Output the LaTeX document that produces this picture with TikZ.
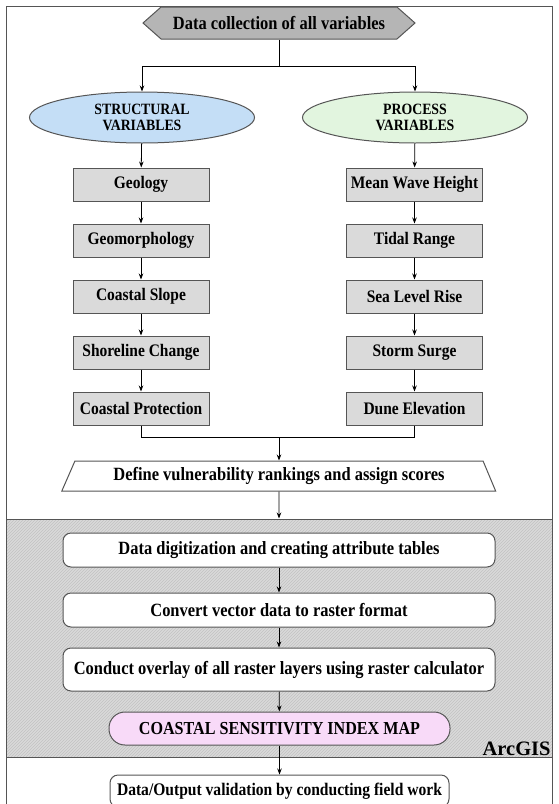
\documentclass[tikz,border=0pt]{standalone}
\usepackage{fontspec}
\setmainfont{Liberation Serif}[FakeStretch=0.88]
\newfontfamily\gisfont{Liberation Serif}
\usetikzlibrary{positioning,arrows.meta,shapes.geometric,shapes.symbols,patterns}
\definecolor{boxline}{HTML}{555555}
\definecolor{boxfill}{HTML}{DADADA}
\definecolor{hexfill}{HTML}{B5B5B5}
\definecolor{structfill}{HTML}{C4DEF6}
\definecolor{procfill}{HTML}{E2F5DF}
\definecolor{mapfill}{HTML}{F8DAF8}
\definecolor{gisfill}{HTML}{D9D9D9}
\definecolor{gishatch}{HTML}{C2C2C2}
\newcommand{\lblfont}{\fontsize{18.7}{20}\selectfont\bfseries}
\newcommand{\stepfont}{\fontsize{17.6}{19}\selectfont\bfseries}
\newcommand{\varfont}{\fontsize{15.7}{16}\selectfont\bfseries}
\tikzset{
  flow/.style={x=1pt,y=-1pt,>={Stealth[length=6pt,width=4.5pt]},line width=0.8pt,
    node distance=56pt,on grid},
  stepbox/.style={draw=boxline,fill=boxfill,line width=1pt,minimum width=136pt,
    minimum height=33pt,inner sep=1pt,font=\stepfont},
  varell/.style={ellipse,draw=boxline,line width=1pt,minimum width=225pt,
    minimum height=51pt,inner sep=0pt,align=center,font=\varfont},
  gisstep/.style={draw=boxline,fill=white,line width=1pt,rounded corners=8pt,
    minimum width=432pt,minimum height=34pt,inner sep=1pt,font=\lblfont},
}

\begin{document}
\begin{tikzpicture}[flow]
  \useasboundingbox (0,0) rectangle (558,804);
  \clip (0,0) rectangle (558,804);
  \draw[boxline,line width=1pt] (6,6) rectangle (552,820);

  \node[signal,signal to=west and east,signal pointer angle=83,draw=boxline,
    fill=hexfill,line width=1pt,minimum width=272pt,minimum height=32pt,
    inner sep=1pt,font=\lblfont] (collect) at (279,23) {Data collection of all variables};
  \node[varell,fill=structfill] (struct) at (142,117.5) {STRUCTURAL\\VARIABLES};
  \node[varell,fill=procfill] (proc) at (415,117.5) {PROCESS\\VARIABLES};

  \node[stepbox] (geo) at (141,184.5) {Geology};
  \node[stepbox] (geomorph) [below=of geo] {Geomorphology};
  \node[stepbox] (slope) [below=of geomorph] {Coastal Slope};
  \node[stepbox] (shore) [below=of slope] {Shoreline Change};
  \node[stepbox] (prot) [below=of shore] {Coastal Protection};

  \node[stepbox] (wave) at (414.5,184.5) {Mean Wave Height};
  \node[stepbox] (tide) [below=of wave] {Tidal Range};
  \node[stepbox] (slr) [below=of tide] {Sea Level Rise};
  \node[stepbox] (surge) [below=of slr] {Storm Surge};
  \node[stepbox] (dune) [below=of surge] {Dune Elevation};

  \node[trapezium,trapezium left angle=61,trapezium right angle=62,trapezium stretches=true,
    draw=boxline,fill=white,line width=1pt,minimum width=434pt,minimum height=30pt,
    inner sep=1pt,font=\lblfont] (rank) at (279,476) {Define vulnerability rankings and assign scores};

  \node[draw=boxline,line width=1pt,preaction={fill=gisfill},pattern=north east lines,
    pattern color=gishatch,minimum width=546pt,minimum height=238pt,inner sep=0pt] (gis) at (279,638) {};
  \node[anchor=south east,inner sep=1.5pt,font=\gisfont\fontsize{20.5}{22}\selectfont\bfseries] (arcgis) at (gis.south east) {ArcGIS};

  \node[gisstep] (digit) at (279,550) {Data digitization and creating attribute tables};
  \node[gisstep] (raster) at (279,610) {Convert vector data to raster format};
  \node[gisstep,minimum height=43pt] (overlay) at (279,669.5) {Conduct overlay of all raster layers using raster calculator};
  \node[gisstep,fill=mapfill,rounded corners=16pt,minimum width=341pt,minimum height=33pt,
    font=\fontsize{18.3}{20}\selectfont\bfseries] (csi) at (279.5,728.5) {COASTAL SENSITIVITY INDEX MAP};
  \node[gisstep,minimum width=339pt,minimum height=32pt,
    font=\fontsize{17.7}{19}\selectfont\bfseries] (valid) at (279.5,791) {Data/Output validation by conducting field work};

  \coordinate (split) at (279,66);
  \coordinate (merge) at (279,437);
  \draw (collect) -- (split);
  \draw[->] (split) -| (struct);
  \draw[->] (split) -| (proc);
  \draw[->] (struct) -- (geo);
  \draw[->] (geo) -- (geomorph);
  \draw[->] (geomorph) -- (slope);
  \draw[->] (slope) -- (shore);
  \draw[->] (shore) -- (prot);
  \draw[->] (proc) -- (wave);
  \draw[->] (wave) -- (tide);
  \draw[->] (tide) -- (slr);
  \draw[->] (slr) -- (surge);
  \draw[->] (surge) -- (dune);
  \draw (prot) |- (merge);
  \draw (dune) |- (merge);
  \draw[->] (merge) -- (rank);
  \draw[->] (rank) -- (gis);
  \draw[->] (digit) -- (raster);
  \draw[->] (raster) -- (overlay);
  \draw[->] (overlay) -- (csi);
  \draw[->] (csi) -- (valid);
\end{tikzpicture}
\end{document}
